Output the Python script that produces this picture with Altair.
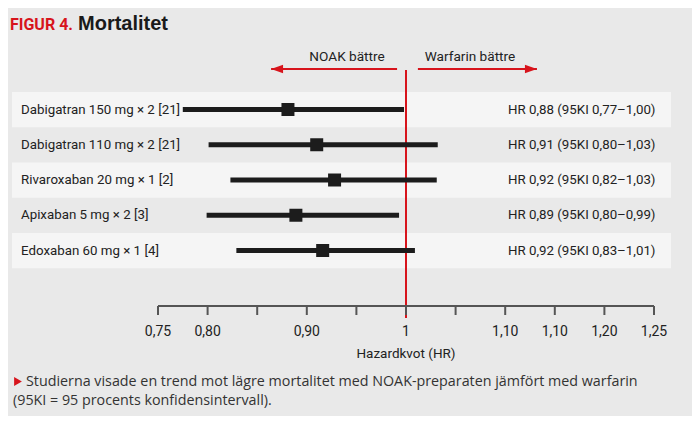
import altair as alt
import pandas as pd

# ---- data ----
row_labels = [
    "Dabigatran 150 mg × 2 [21]",
    "Dabigatran 110 mg × 2 [21]",
    "Rivaroxaban 20 mg × 1 [2]",
    "Apixaban 5 mg × 2 [3]",
    "Edoxaban 60 mg × 1 [4]",
]
hr_point = [0.881, 0.910, 0.928, 0.889, 0.916]
ci_low = [0.775, 0.801, 0.823, 0.799, 0.829]
ci_high = [0.998, 1.032, 1.031, 0.993, 1.009]
hr_text = [
    "HR 0,88 (95KI 0,77–1,00)",
    "HR 0,91 (95KI 0,80–1,03)",
    "HR 0,92 (95KI 0,82–1,03)",
    "HR 0,89 (95KI 0,80–0,99)",
    "HR 0,92 (95KI 0,83–1,01)",
]
tick_values = [0.75, 0.80, 0.85, 0.90, 0.95, 1.00, 1.05, 1.10, 1.15, 1.20, 1.25]
tick_labels = ["0,75", "0,80", "", "0,90", "", "1", "", "1,10", "1,10", "1,20", "1,25"]
arrow_left = [0.991, 0.864]   # start, tip
arrow_right = [1.012, 1.132]  # start, tip

RED = "#d7141c"
TXT = "#222222"
AXC = "#555555"
LBL = "Roboto, Liberation Sans, sans-serif"
REG = "Liberation Sans, Arial, sans-serif"
FOOT = "Open Sans, Liberation Sans, sans-serif"
FS = 13.3

rows = pd.DataFrame({
    "row": list(range(len(row_labels))),
    "label": row_labels,
    "hr": hr_point,
    "lo": ci_low,
    "hi": ci_high,
    "txt": hr_text,
})
rows["b0"] = rows["row"] - 0.5
rows["b1"] = rows["row"] + 0.5
bands = rows[rows["row"] % 2 == 0]

ticks = pd.DataFrame({"v": tick_values, "lab": tick_labels})

xs = alt.Scale(domain=[0.59879, 1.28831], nice=False, zero=False)
ys = alt.Scale(domain=[0, 4], range=[101.5, 242.5], nice=False, zero=False)

X = lambda f: alt.X(f, type="quantitative", scale=xs, axis=None)
Y = lambda f: alt.Y(f, type="quantitative", scale=ys, axis=None)

band_layer = alt.Chart(bands).mark_rect(color="#f5f5f5").encode(
    x=alt.value(4), x2=alt.value(663), y=Y("b0"), y2=alt.Y2("b1")
)

ci_layer = alt.Chart(rows).mark_rule(color="#1c1c1c", strokeWidth=5).encode(
    x=X("lo"), x2=alt.X2("hi"), y=Y("row")
)

pt_layer = alt.Chart(rows).mark_point(
    shape="square", filled=True, size=169, color="#1c1c1c", opacity=1
).encode(x=X("hr"), y=Y("row"))

lab_layer = alt.Chart(rows).mark_text(
    align="left", baseline="middle", font=LBL, fontSize=FS, color=TXT
).encode(x=alt.value(13), y=Y("row"), text="label:N")

hr_layer = alt.Chart(rows).mark_text(
    align="left", baseline="middle", font=LBL, fontSize=FS, color=TXT
).encode(x=alt.value(500), y=Y("row"), text="txt:N")

ref_df = pd.DataFrame({"v": [1.0]})
ref_layer = alt.Chart(ref_df).mark_rule(color=RED, strokeWidth=2).encode(
    x=X("v"), y=alt.value(62), y2=alt.value(310)
)

axis_df = pd.DataFrame({"a": [tick_values[0]], "b": [tick_values[-1]]})
axis_line = alt.Chart(axis_df).mark_rule(color=AXC, strokeWidth=2).encode(
    x=X("a"), x2=alt.X2("b"), y=alt.value(298)
)
tick_layer = alt.Chart(ticks).mark_rule(color=AXC, strokeWidth=2).encode(
    x=X("v"), y=alt.value(298), y2=alt.value(307)
)
tick_text = alt.Chart(ticks).mark_text(
    align="center", baseline="middle", font=LBL, fontSize=14, color=TXT
).encode(x=X("v"), y=alt.value(324), text="lab:N")

axis_title = alt.Chart(ref_df).mark_text(
    align="center", baseline="middle", font=LBL, fontSize=13.5, color=TXT,
    text="Hazardkvot (HR)"
).encode(x=X("v"), y=alt.value(346))

arr_df = pd.DataFrame({
    "s": [arrow_left[0], arrow_right[0]],
    "t": [arrow_left[1], arrow_right[1]],
})
arr_lines = alt.Chart(arr_df).mark_rule(color=RED, strokeWidth=2).encode(
    x=X("s"), x2=alt.X2("t"), y=alt.value(61)
)
head_l = alt.Chart(pd.DataFrame({"t": [arrow_left[1]]})).mark_point(
    shape="M0,0 L2,-0.7 L2,0.7 Z", filled=True, size=144, color=RED, opacity=1
).encode(x=X("t"), y=alt.value(61))
head_r = alt.Chart(pd.DataFrame({"t": [arrow_right[1]]})).mark_point(
    shape="M0,0 L-2,-0.7 L-2,0.7 Z", filled=True, size=144, color=RED, opacity=1
).encode(x=X("t"), y=alt.value(61))

noak = alt.Chart(ref_df).mark_text(
    align="center", baseline="middle", font=LBL, fontSize=13.6, color=TXT,
    text="NOAK bättre"
).encode(x=alt.value(339), y=alt.value(49))
warf = alt.Chart(ref_df).mark_text(
    align="center", baseline="middle", font=LBL, fontSize=13.6, color=TXT,
    text="Warfarin bättre"
).encode(x=alt.value(462), y=alt.value(49))

title1 = alt.Chart(ref_df).mark_text(
    align="left", baseline="alphabetic", font=LBL, fontSize=16, fontWeight="bold",
    color=RED, text="FIGUR 4."
).encode(x=alt.value(2), y=alt.value(22))
title2 = alt.Chart(ref_df).mark_text(
    align="left", baseline="alphabetic", font=REG, fontSize=20, fontWeight="bold",
    color="#1a1a1a", text="Mortalitet"
).encode(x=alt.value(70), y=alt.value(22))

foot_tri = alt.Chart(ref_df).mark_point(
    shape="triangle-right", filled=True, size=80, color=RED, opacity=1
).encode(x=alt.value(10), y=alt.value(373.5))
foot1 = alt.Chart(ref_df).mark_text(
    align="left", baseline="alphabetic", font=FOOT, fontSize=14.3, color="#333333",
    text="Studierna visade en trend mot lägre mortalitet med NOAK-preparaten jämfört med warfarin"
).encode(x=alt.value(18), y=alt.value(378))
foot2 = alt.Chart(ref_df).mark_text(
    align="left", baseline="alphabetic", font=FOOT, fontSize=14.3, color="#333333",
    text="(95KI = 95 procents konfidensintervall)."
).encode(x=alt.value(5), y=alt.value(397))

chart = alt.layer(
    band_layer, ref_layer, ci_layer, pt_layer, lab_layer, hr_layer,
    axis_line, tick_layer, tick_text, axis_title,
    arr_lines, head_l, head_r, noak, warf,
    title1, title2, foot_tri, foot1, foot2,
).properties(
    width=684, height=408, background="#e9e9e9",
    autosize=alt.AutoSizeParams(type="none"), padding=0,
).configure_view(stroke=None)

chart.save("out.html", embed_options={"renderer": "svg", "actions": False})
